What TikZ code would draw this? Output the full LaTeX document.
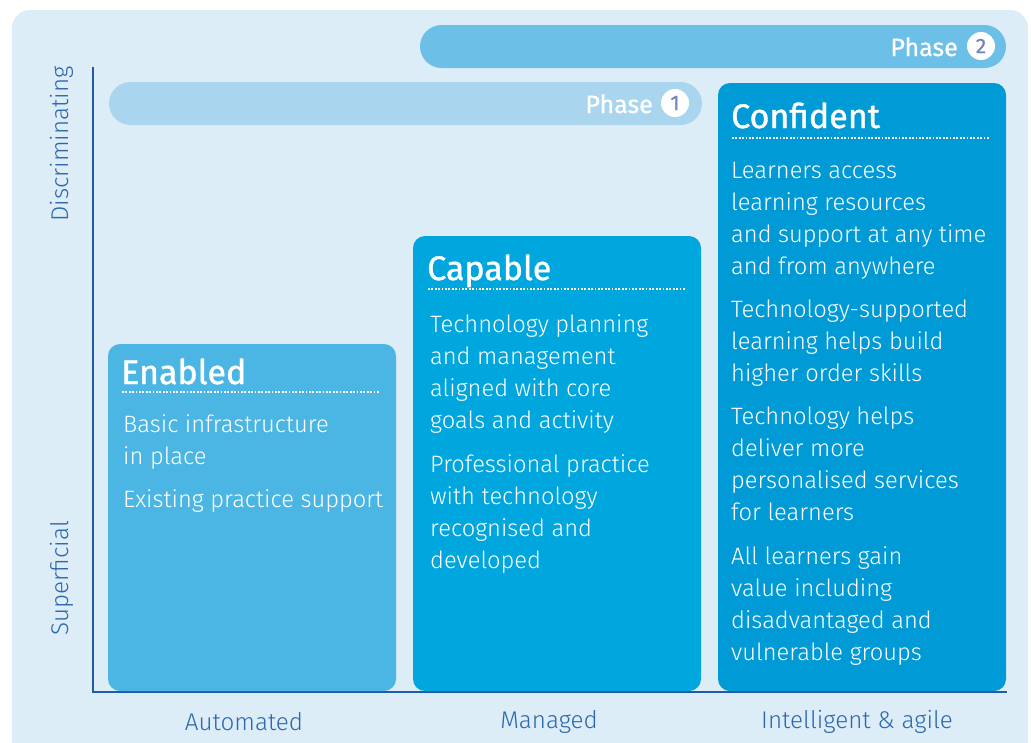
\documentclass[tikz,border=0pt]{standalone}
\usepackage{fontspec}
\setmainfont{Fira Sans}
\IfFontExistsTF{Fira Sans Light}{\newfontfamily\bodyfont{Fira Sans Light}}{\newfontfamily\bodyfont{Fira Sans}}
\definecolor{bgc}{HTML}{DDEDF8}
\definecolor{ph1}{HTML}{A9D5EF}
\definecolor{ph2}{HTML}{6CC0E8}
\definecolor{enc}{HTML}{4BB6E4}
\definecolor{cac}{HTML}{00A6DE}
\definecolor{coc}{HTML}{009AD7}
\definecolor{axc}{HTML}{1D5DA8}
\definecolor{lbc}{HTML}{2B68B0}
\definecolor{numc}{HTML}{7384BE}
\newcommand\paralines[4]{%
  \foreach \t [count=\i from 0] in {#4}
    \node[body] (#3\i) at (#1,{#2+32*\i}) {\t};}
\begin{document}
\begin{tikzpicture}[x=1pt,y=-1pt,
  body/.style={anchor=base west,inner sep=0pt,text=white,font=\bodyfont\fontsize{23.7}{26}\selectfont},
  title/.style={anchor=base west,inner sep=0pt,text=white,font=\fontsize{34}{40}\selectfont\addfontfeature{FakeBold=1.2}},
  stage/.style={rounded corners=12pt},
  bar/.style={rounded corners=21.5pt},
  dots/.style={white,line width=2.2pt,dash pattern=on 1.8pt off 1.6pt},
  axlabel/.style={text=lbc,inner sep=0pt,font=\bodyfont\fontsize{24.2}{28}\selectfont},
  phasetxt/.style={anchor=base east,inner sep=0pt,text=white,font=\fontsize{25}{28}\selectfont\addfontfeature{FakeBold=0.8}},
  numcirc/.style={circle,fill=white,minimum size=28pt,inner sep=0pt,text=numc,font=\fontsize{21}{24}\selectfont\addfontfeature{FakeBold=0.8}}]
\useasboundingbox (0,0) rectangle (1031,742);
\fill[bgc,rounded corners=18pt] (12,10) rectangle (1028,770);
% phase bars
\fill[ph2,bar] (420,25) rectangle (1006,68);
\node[phasetxt] (p2t) at (958,56) {Phase};
\node[numcirc] (p2n) at (981,46) {2};
\fill[ph1,bar] (109,82) rectangle (702,125);
\node[phasetxt] (p1t) at (653,113) {Phase};
\node[numcirc] (p1n) at (675,103) {1};
% axes
\coordinate (atop) at (93,67);
\coordinate (aorig) at (93,692);
\coordinate (aright) at (1007,692);
\draw[axc,line width=1.5pt] (atop) -- (aorig) -- (aright);
% stage boxes
\fill[enc,stage] (108,344) rectangle (396,691);
\fill[cac,stage] (413,236) rectangle (701,691);
\fill[coc,stage] (718,83) rectangle (1006,691);
% Enabled
\node[title] (ent) at (121,384) {Enabled};
\draw[dots] (122,392) -- (380,392);
\paralines{123}{432}{ena}{Basic infrastructure,in place}
\paralines{123}{507}{enb}{Existing practice support}
% Capable
\node[title] (cat) at (427,280) {Capable};
\draw[dots] (428,289) -- (686,289);
\paralines{430}{332}{caa}{Technology planning,and management,aligned with core,goals and activity}
\paralines{430}{472}{cab}{Professional practice,with technology,recognised and,developed}
% Confident
\node[title] (cot) at (731,128) {Confident};
\draw[dots] (732,138) -- (990,138);
\paralines{731}{178}{coa}{Learners access,learning resources,and support at any time,and from anywhere}
\paralines{731}{317}{cob}{Technology-supported,learning helps build,higher order skills}
\paralines{731}{424}{coc}{Technology helps,deliver more,personalised services,for learners}
\paralines{731}{564}{cod}{All learners gain,value including,disadvantaged and,vulnerable groups}
% axis labels
\node[axlabel,rotate=90] (disc) at (62,144) {Discriminating};
\node[axlabel,rotate=90] (sup) at (62,578) {Superficial};
\node[axlabel] (auto) at (244,722) {Automated};
\node[axlabel] (man) at (549,722) {Managed};
\node[axlabel] (intel) at (857,722) {Intelligent \& agile};
\end{tikzpicture}
\end{document}
